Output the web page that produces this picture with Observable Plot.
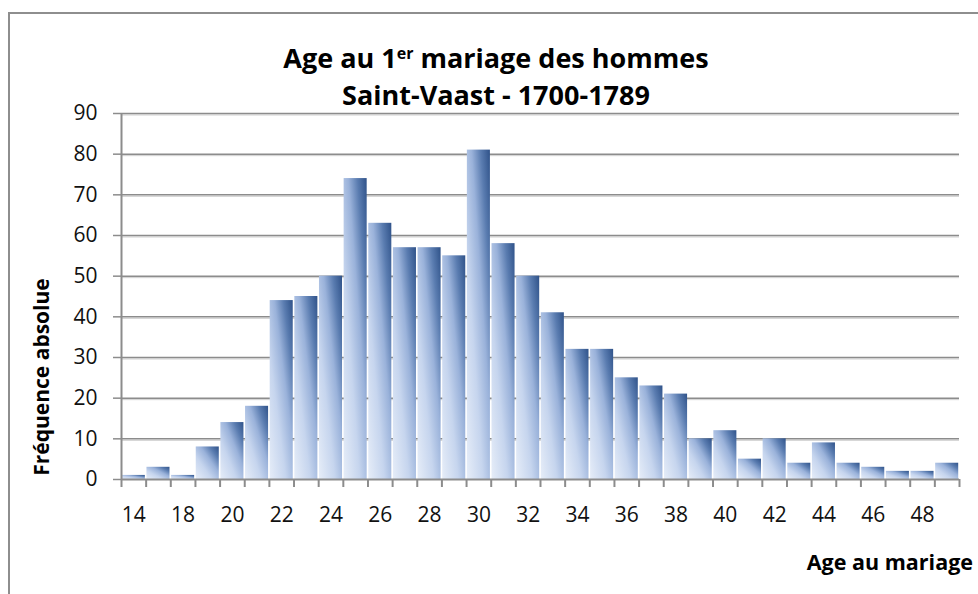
<!DOCTYPE html>
<html>
<head>
<meta charset="utf-8">
<script src="https://cdn.jsdelivr.net/npm/d3@7"></script>
<script src="https://cdn.jsdelivr.net/npm/@observablehq/plot@0.6"></script>
<style>
  html, body { margin: 0; padding: 0; background: #fff; }
  #chart { position: relative; width: 978px; height: 594px; overflow: hidden; background: #fff; font-family: "Open Sans", sans-serif; }
  #frame { position: absolute; left: 8px; top: 12px; width: 1200px; height: 800px; border: 2px solid #8e8e8e; box-sizing: border-box; }
  .title { position: absolute; left: 0; width: 992px; text-align: center; font-weight: bold; font-size: 27px; color: #000; white-space: nowrap; line-height: 1; }
  .title sup { font-size: 16px; vertical-align: 0.55em; line-height: 0; }
  #ylab { position: absolute; left: 41px; top: 377px; transform: translate(-50%, -50%) rotate(-90deg); font-weight: bold; font-size: 21px; line-height: 1; white-space: nowrap; color: #000; }
  #xlab { position: absolute; right: 5px; top: 551px; font-weight: bold; font-size: 21.5px; line-height: 1; white-space: nowrap; color: #000; }
  #plot { position: absolute; left: 0; top: 0; }
</style>
</head>
<body>
<div id="chart">
  <div id="frame"></div>
  <div id="plot"></div>
  <div class="title" style="top:44px">Age au 1<sup>er</sup> mariage des hommes</div>
  <div class="title" style="top:81px">Saint-Vaast - 1700-1789</div>
  <div id="ylab">Fréquence absolue</div>
  <div id="xlab">Age au mariage</div>
</div>
<script>
// Data
const ages = [14, 17, 18, 19, 20, 21, 22, 23, 24, 25, 26, 27, 28, 29, 30, 31, 32, 33, 34, 35, 36, 37, 38, 39, 40, 41, 42, 43, 44, 45, 46, 47, 48, 49];
const counts = [1, 3, 1, 8, 14, 18, 44, 45, 50, 74, 63, 57, 57, 55, 81, 58, 50, 41, 32, 32, 25, 23, 21, 10, 12, 5, 10, 4, 9, 4, 3, 2, 2, 4];
const yTicks = [0, 10, 20, 30, 40, 50, 60, 70, 80, 90];

const data = ages.map((a, i) => ({i, age: a, n: counts[i]}));
const boundaries = d3.range(0, ages.length + 1);
const labelPos = d3.range(0, ages.length, 2).map(i => i + 0.5);

const grid = "#8c8c8c";

const svg = Plot.plot({
  width: 978,
  height: 594,
  marginLeft: 121,
  marginRight: 19,
  marginTop: 113,
  marginBottom: 115,
  style: {fontFamily: "'Open Sans', sans-serif", background: "transparent", overflow: "visible"},
  x: {type: "linear", domain: [0, ages.length], axis: null},
  y: {domain: [0, 90], axis: null},
  marks: [
    Plot.ruleY(yTicks.filter(d => d > 0), {stroke: "#cfcfcf", strokeWidth: 1, dy: 1.5}),
    Plot.ruleY(yTicks.filter(d => d > 0), {stroke: grid, strokeWidth: 1.5}),
    Plot.rectY(data, {x1: "i", x2: d => d.i + 1, y: "n", insetLeft: 0.8, insetRight: 0.8, fill: "url(#barGrad)"}),
    Plot.ruleY([0], {stroke: grid, strokeWidth: 2}),
    Plot.ruleX([0], {stroke: grid, strokeWidth: 2}),
    Plot.axisY(yTicks, {tickSize: 8, tickPadding: 16, stroke: grid, strokeWidth: 1.5, fontSize: 21, fill: "#111", label: null}),
    Plot.axisX(boundaries, {tickSize: 8, tickFormat: () => "", stroke: grid, strokeWidth: 2, label: null}),
    Plot.axisX(labelPos, {tickSize: 0, tickPadding: 28, tickFormat: v => String(ages[Math.round(v - 0.5)]), fontSize: 21, fill: "#111", label: null})
  ]
});

svg.insertAdjacentHTML("afterbegin", `
<defs>
  <linearGradient id="barGrad" x1="0" y1="1" x2="1" y2="0">
    <stop offset="0" stop-color="#e6edf8"/>
    <stop offset="0.35" stop-color="#c6d5ee"/>
    <stop offset="0.6" stop-color="#9ab2da"/>
    <stop offset="0.8" stop-color="#5a7cb0"/>
    <stop offset="1" stop-color="#2f5289"/>
  </linearGradient>
</defs>`);

document.getElementById("plot").appendChild(svg);
</script>
</body>
</html>
